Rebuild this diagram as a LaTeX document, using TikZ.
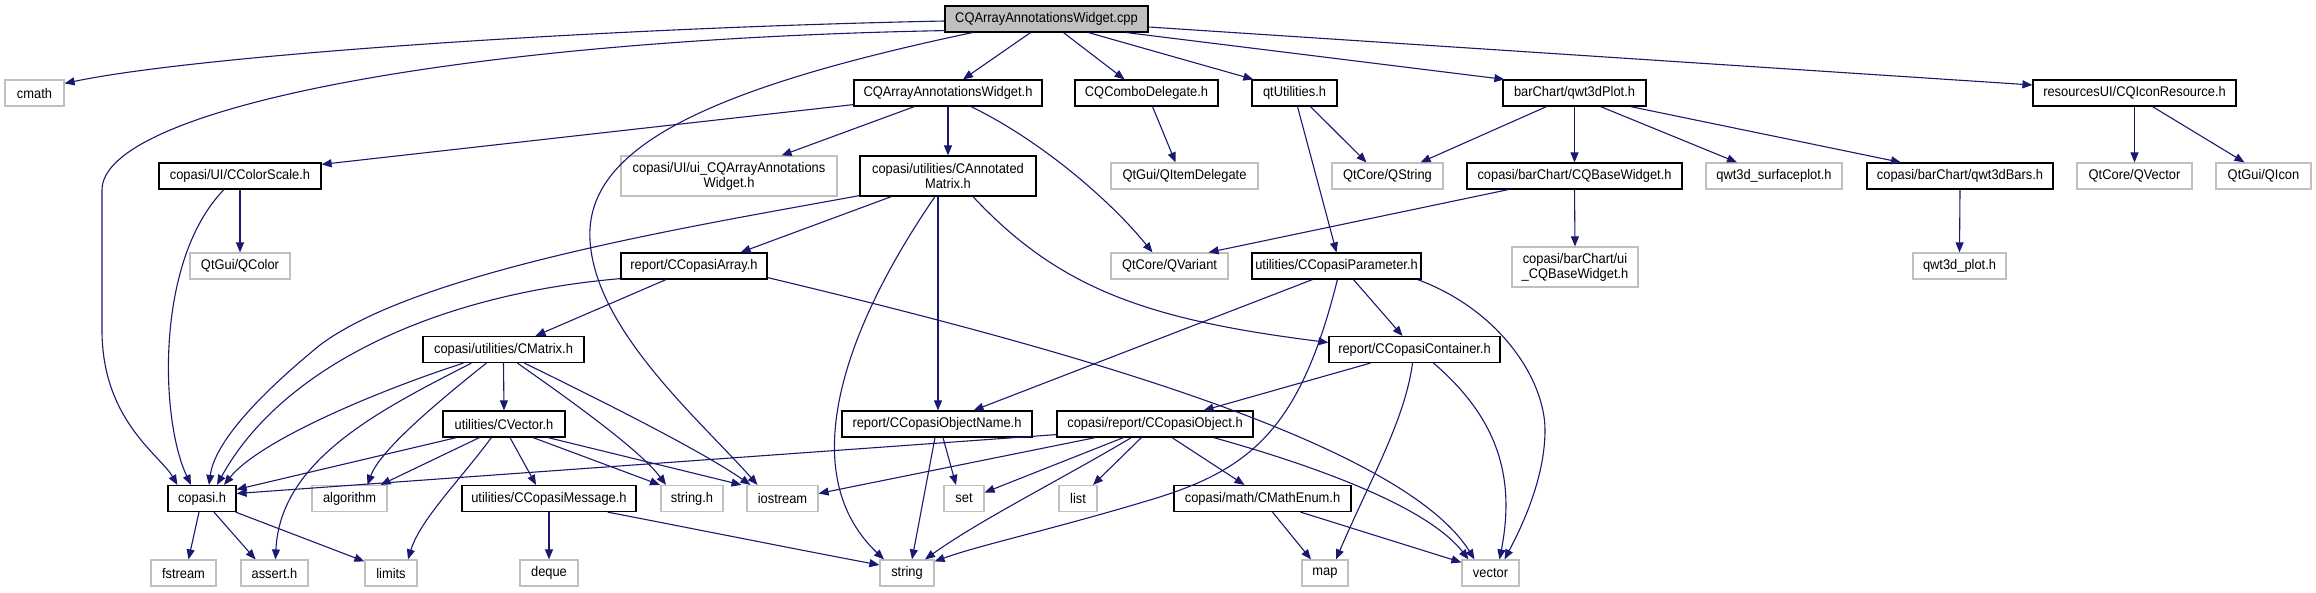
\documentclass[tikz,border=0pt]{standalone}
\usepackage{fontspec}
\setmainfont{Liberation Sans}[FakeStretch=0.92]
\usetikzlibrary{arrows.meta,calc}
\definecolor{edgeblue}{HTML}{191970}
\definecolor{lgray}{HTML}{BFBFBF}
\tikzset{
  file/.style={draw=black, line width=1.2pt, rectangle, inner sep=0pt, minimum height=26pt, align=center, font=\fontsize{14}{15}\selectfont},
  ext/.style={file, draw=lgray},
  two/.style={minimum height=40pt},
  dep/.style={draw=edgeblue, line width=1.1pt, -{Triangle[length=10pt,width=8pt]}},
}
\begin{document}
\begin{tikzpicture}[x=1pt,y=-1pt]
\useasboundingbox (0,0) rectangle (2316,592);
% row 0
\node[file, fill=lgray, minimum width=203pt] (root) at (1046.5,19) {CQArrayAnnotationsWidget.cpp};
% row 1
\node[ext, minimum width=59pt] (cmath) at (34.5,93) {cmath};
\node[file, minimum width=188pt] (cqaaw) at (948,93) {CQArrayAnnotationsWidget.h};
\node[file, minimum width=143pt] (combo) at (1146.5,93) {CQComboDelegate.h};
\node[file, minimum width=85pt] (qtutil) at (1294.5,93) {qtUtilities.h};
\node[file, minimum width=143pt] (qwtplot) at (1574.5,93) {barChart/qwt3dPlot.h};
\node[file, minimum width=203pt] (iconres) at (2134.5,93) {resourcesUI/CQIconResource.h};
% row 2
\node[file, minimum width=162pt] (colorscale) at (240,176) {copasi/UI/CColorScale.h};
\node[ext, two, minimum width=216pt] (uiaa) at (729,176) {copasi/UI/ui\_CQArrayAnnotations\\Widget.h};
\node[file, two, minimum width=176pt] (annmat) at (948,176) {copasi/utilities/CAnnotated\\Matrix.h};
\node[ext, minimum width=147pt] (itemdel) at (1184.5,176) {QtGui/QItemDelegate};
\node[ext, minimum width=111pt] (qstring) at (1387.5,176) {QtCore/QString};
\node[file, minimum width=215pt] (basewidget) at (1574.5,176) {copasi/barChart/CQBaseWidget.h};
\node[ext, minimum width=136pt] (surface) at (1774,176) {qwt3d\_surfaceplot.h};
\node[file, minimum width=186pt] (bars) at (1960,176) {copasi/barChart/qwt3dBars.h};
\node[ext, minimum width=115pt] (qvector) at (2134.5,176) {QtCore/QVector};
\node[ext, minimum width=95pt] (qicon) at (2263.5,176) {QtGui/QIcon};
% row 3
\node[ext, minimum width=100pt] (qcolor) at (240,266) {QtGui/QColor};
\node[file, minimum width=146pt] (ccarray) at (694,266) {report/CCopasiArray.h};
\node[ext, minimum width=117pt] (qvariant) at (1169.5,266) {QtCore/QVariant};
\node[file, minimum width=169pt] (ccparam) at (1336.5,266) {utilities/CCopasiParameter.h};
\node[ext, two, minimum width=126pt] (uibase) at (1575,267) {copasi/barChart/ui\\\_CQBaseWidget.h};
\node[ext, minimum width=93pt] (qwtdplot) at (1959.5,266) {qwt3d\_plot.h};
% row 4
\node[file, minimum width=161pt] (cmatrix) at (503.5,349.5) {copasi/utilities/CMatrix.h};
\node[file, minimum width=171pt] (container) at (1414.5,349.5) {report/CCopasiContainer.h};
% row 5
\node[file, minimum width=122pt] (cvector) at (504,424) {utilities/CVector.h};
\node[file, minimum width=190pt] (objname) at (937,424) {report/CCopasiObjectName.h};
\node[file, minimum width=196pt] (ccobject) at (1155,424) {copasi/report/CCopasiObject.h};
% row 6
\node[file, minimum width=68pt] (copasi) at (202,498.5) {copasi.h};
\node[ext, minimum width=75pt] (algorithm) at (349.5,498.5) {algorithm};
\node[file, minimum width=174pt] (ccmsg) at (549,498.5) {utilities/CCopasiMessage.h};
\node[ext, minimum width=62pt] (stringh) at (692,498.5) {string.h};
\node[ext, minimum width=71pt] (iostream) at (782.5,498.5) {iostream};
\node[ext, minimum width=40pt] (setn) at (964,498.5) {set};
\node[ext, minimum width=38pt] (listn) at (1078,498.5) {list};
\node[file, minimum width=177pt] (mathenum) at (1262.5,498.5) {copasi/math/CMathEnum.h};
% row 7
\node[ext, minimum width=65pt] (fstream) at (183.5,573) {fstream};
\node[ext, minimum width=67pt] (assert) at (274.5,573) {assert.h};
\node[ext, minimum width=52pt] (limits) at (391,573) {limits};
\node[ext, minimum width=58pt] (deque) at (549,573) {deque};
\node[ext, minimum width=54pt] (stringn) at (907,573) {string};
\node[ext, minimum width=46pt] (mapn) at (1325,573) {map};
\node[ext, minimum width=57pt] (vector) at (1490.5,573) {vector};

% root edges
\draw[dep] ($(root.west)+(0,2)$) .. controls (600,28) and (200,55) .. ($(cmath.north east)+(0,4)$);
\draw[dep] ($(root.south west)+(0,-2)$) .. controls (450,40) and (102,110) .. (102,190) -- (102,330) .. controls (102,420) and (160,455) .. ($(copasi.north west)+(10,0)$);
\draw[dep] ($(root.south west)+(28,0)$) .. controls (700,90) and (585,150) .. (590,240) .. controls (595,330) and (700,420) .. ($(iostream.north)+(-25,0)$);
\draw[dep] ($(root.south)+(-16,0)$) -- ($(cqaaw.north)+(15,0)$);
\draw[dep] ($(root.south)+(17,0)$) -- ($(combo.north)+(-22,0)$);
\draw[dep] ($(root.south)+(42,0)$) -- ($(qtutil.north west)+(2,0)$);
\draw[dep] ($(root.south)+(80,0)$) -- ($(qwtplot.north west)+(2,0)$);
\draw[dep] ($(root.east)+(0,8)$) -- ($(iconres.west)+(0,-8)$);
% CQArrayAnnotationsWidget.h
\draw[dep] ($(cqaaw.south west)+(0,-2)$) -- ($(colorscale.north east)+(0,2)$);
\draw[dep] ($(cqaaw.south west)+(61,0)$) -- ($(uiaa.north east)+(-56,0)$);
\draw[dep] (cqaaw.south) -- (annmat.north);
\draw[dep] ($(cqaaw.south)+(23,0)$) .. controls (1040,140) and (1110,200) .. ($(qvariant.north)+(-17,0)$);
% CColorScale
\draw[dep] (colorscale.south) -- (qcolor.north);
\draw[dep] ($(colorscale.south)+(-16,0)$) .. controls (155,260) and (160,420) .. ($(copasi.north)+(-11,0)$);
% CAnnotatedMatrix
\draw[dep] ($(annmat.south west)+(0,-1)$) .. controls (700,225) and (420,270) .. (320,345) .. controls (265,390) and (215,440) .. ($(copasi.north)+(7,0)$);
\draw[dep] ($(annmat.south west)+(32,0)$) -- ($(ccarray.north east)+(-27,0)$);
\draw[dep] ($(annmat.south)+(-13,0)$) .. controls (850,320) and (790,470) .. ($(stringn.north)+(-23,0)$);
\draw[dep] ($(annmat.south)+(-10,0)$) -- ($(objname.north)+(1,0)$);
\draw[dep] ($(annmat.south)+(25,0)$) .. controls (1060,290) and (1150,320) .. ($(container.west)+(0,-7)$);
% CCopasiArray
\draw[dep] ($(ccarray.south west)+(0,-1)$) .. controls (430,295) and (280,370) .. ($(copasi.north)+(15,0)$);
\draw[dep] ($(ccarray.south)+(-28,0)$) -- ($(cmatrix.north)+(32,0)$);
\draw[dep] ($(ccarray.south east)+(0,-2)$) .. controls (1050,345) and (1400,440) .. ($(vector.north)+(-16,0)$);
% CMatrix
\draw[dep] ($(cmatrix.south west)+(41,0)$) .. controls (380,390) and (260,440) .. ($(copasi.north)+(22,0)$);
\draw[dep] ($(cmatrix.south west)+(49,0)$) .. controls (380,410) and (280,460) .. ($(assert.north)+(1,0)$);
\draw[dep] ($(cmatrix.south west)+(64,0)$) .. controls (440,400) and (380,450) .. ($(algorithm.north)+(18,0)$);
\draw[dep] (cmatrix.south) -- (cvector.north);
\draw[dep] ($(cmatrix.south west)+(95,0)$) .. controls (570,400) and (640,450) .. ($(stringh.north)+(-26,0)$);
\draw[dep] ($(cmatrix.south west)+(102,0)$) .. controls (600,400) and (700,450) .. ($(iostream.north)+(-32,0)$);
% CCopasiParameter
\draw[dep] ($(ccparam.south west)+(61,0)$) -- ($(objname.north east)+(-59,0)$);
\draw[dep] ($(ccparam.south west)+(86,0)$) .. controls (1300,430) and (1250,470) .. (1150,500) .. controls (1050,530) and (980,545) .. ($(stringn.north east)+(0,2)$);
\draw[dep] ($(ccparam.south)+(17,0)$) -- ($(container.north)+(-12,0)$);
\draw[dep] ($(ccparam.south east)+(-4,0)$) .. controls (1500,310) and (1545,380) .. (1545,430) .. controls (1545,480) and (1520,530) .. ($(vector.north)+(14,0)$);
% CCopasiContainer
\draw[dep] ($(container.south west)+(42,0)$) -- ($(ccobject.north east)+(-50,0)$);
\draw[dep] ($(container.south)+(-2,0)$) .. controls (1405,420) and (1370,480) .. ($(mapn.north)+(11,0)$);
\draw[dep] ($(container.south)+(19,0)$) .. controls (1500,420) and (1515,480) .. ($(vector.north)+(9,0)$);
% CVector
\draw[dep] ($(cvector.south west)+(14,0)$) -- ($(copasi.east)+(0,-9)$);
\draw[dep] ($(cvector.south west)+(37,0)$) -- ($(algorithm.north east)+(-7,0)$);
\draw[dep] ($(cvector.south west)+(49,0)$) .. controls (460,480) and (420,520) .. ($(limits.north)+(17,0)$);
\draw[dep] ($(cvector.south)+(6,0)$) -- ($(ccmsg.north)+(-13,0)$);
\draw[dep] ($(cvector.south)+(29,0)$) -- ($(stringh.north)+(-32,0)$);
\draw[dep] ($(cvector.south)+(44,0)$) -- ($(iostream.north)+(-41,0)$);
% CCopasiObjectName
\draw[dep] ($(objname.south)+(-2,0)$) -- ($(stringn.north)+(5,0)$);
\draw[dep] ($(objname.south)+(6,0)$) -- ($(setn.north)+(-8,0)$);
% CCopasiObject
\draw[dep] ($(ccobject.south west)+(0,-3)$) -- ($(copasi.east)+(0,-5)$);
\draw[dep] ($(ccobject.south west)+(39,0)$) -- ($(iostream.east)+(0,-5)$);
\draw[dep] ($(ccobject.south west)+(67,0)$) -- ($(setn.east)+(0,-6)$);
\draw[dep] ($(ccobject.south west)+(75,0)$) .. controls (1060,480) and (980,520) .. ($(stringn.north)+(18,0)$);
\draw[dep] ($(ccobject.south west)+(85,0)$) -- ($(listn.north)+(15,0)$);
\draw[dep] ($(ccobject.south)+(17,0)$) -- ($(mathenum.north)+(-18,0)$);
\draw[dep] ($(ccobject.south east)+(-40,0)$) .. controls (1330,470) and (1430,510) .. ($(vector.north)+(-22,0)$);
% CMathEnum
\draw[dep] ($(mathenum.south)+(10,0)$) -- ($(mapn.north)+(-14,0)$);
\draw[dep] ($(mathenum.south)+(38,0)$) -- ($(vector.north west)+(0,3)$);
% CCopasiMessage
\draw[dep] (ccmsg.south) -- (deque.north);
\draw[dep] ($(ccmsg.south east)+(-29,0)$) .. controls (700,530) and (800,550) .. ($(stringn.west)+(0,-8)$);
% copasi.h
\draw[dep] ($(copasi.south)+(-3,0)$) -- ($(fstream.north)+(5,0)$);
\draw[dep] ($(copasi.south)+(12,0)$) -- ($(assert.north)+(-19,0)$);
\draw[dep] ($(copasi.south east)+(-1,0)$) -- ($(limits.north west)+(0,2)$);
% qtUtilities
\draw[dep] ($(qtutil.south)+(16,0)$) -- ($(qstring.north)+(-21,0)$);
\draw[dep] ($(qtutil.south)+(3,0)$) -- (ccparam.north);
% qwt3dPlot
\draw[dep] ($(qwtplot.south)+(-28,0)$) -- ($(qstring.north east)+(-23,0)$);
\draw[dep] (qwtplot.south) -- (basewidget.north);
\draw[dep] ($(qwtplot.south east)+(-46,0)$) -- ($(surface.north)+(-37,0)$);
\draw[dep] ($(qwtplot.south east)+(-16,0)$) -- ($(bars.north)+(-59,0)$);
% CQBaseWidget
\draw[dep] ($(basewidget.south west)+(42,0)$) -- ($(qvariant.north east)+(-20,0)$);
\draw[dep] (basewidget.south) -- (uibase.north);
% others
\draw[dep] ($(combo.south)+(6,0)$) -- ($(itemdel.north)+(-9,0)$);
\draw[dep] (iconres.south) -- (qvector.north);
\draw[dep] ($(iconres.south)+(18,0)$) -- ($(qicon.north)+(-19,0)$);
\draw[dep] (bars.south) -- (qwtdplot.north);
\end{tikzpicture}
\end{document}
